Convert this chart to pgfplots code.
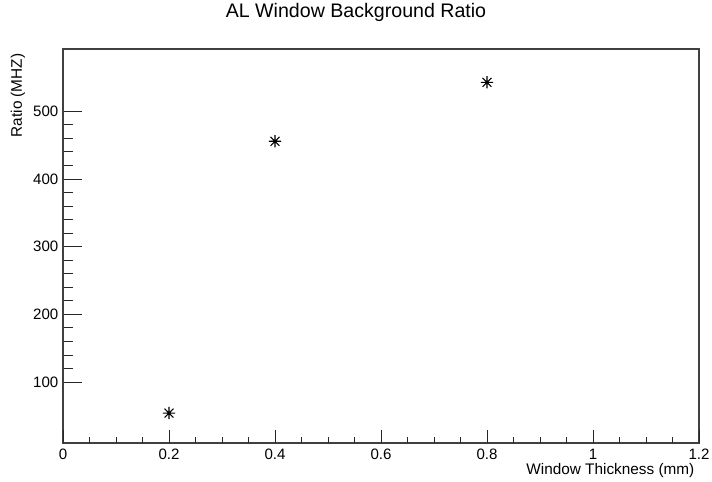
\documentclass[border=0pt]{standalone}
\usepackage{pgfplots}
\pgfplotsset{compat=1.18}
\usepackage{fontspec}
\setmainfont{Liberation Sans}
\pgfdeclareplotmark{rootstar}{%
  \pgfpathmoveto{\pgfqpoint{-\pgfplotmarksize}{0pt}}\pgfpathlineto{\pgfqpoint{\pgfplotmarksize}{0pt}}%
  \pgfpathmoveto{\pgfqpoint{0pt}{-\pgfplotmarksize}}\pgfpathlineto{\pgfqpoint{0pt}{\pgfplotmarksize}}%
  \pgfpathmoveto{\pgfqpoint{-0.72\pgfplotmarksize}{-0.72\pgfplotmarksize}}\pgfpathlineto{\pgfqpoint{0.72\pgfplotmarksize}{0.72\pgfplotmarksize}}%
  \pgfpathmoveto{\pgfqpoint{-0.72\pgfplotmarksize}{0.72\pgfplotmarksize}}\pgfpathlineto{\pgfqpoint{0.72\pgfplotmarksize}{-0.72\pgfplotmarksize}}%
  \pgfusepathqstroke}
\begin{document}
\begin{tikzpicture}[x=1pt,y=1pt]
\path[use as bounding box] (-47.25pt,-28.5pt) rectangle (486.75pt,332.25pt);
\begin{axis}[
  at={(0,0)}, anchor=south west,
  scale only axis, width=477pt, height=295.5pt,
  xmin=0, xmax=1.2, ymin=10, ymax=592,
  xtick={0,0.2,0.4,0.6,0.8,1,1.2},
  xticklabels={0,0.2,0.4,0.6,0.8,1,1.2},
  ytick={100,200,300,400,500},
  minor y tick num=4,
  tick pos=left,
  tick align=inside,
  major tick length=14pt, minor tick length=7.5pt,
  xtick style={draw=none},
  every tick/.style={black!85, line width=0.7pt},
  axis line style={line width=0.9pt, black!75},
  /pgf/number format/assume math mode=true,
  tick label style={font=\fontsize{11.3}{13}\selectfont},
  xticklabel style={yshift=-1pt},
  xlabel={Window Thickness (mm)},
  ylabel={Ratio (MHZ)},
  label style={font=\fontsize{11.5}{13}\selectfont},
  xlabel style={at={(axis description cs:1,-0.0812)}, anchor=base east},
  ylabel style={at={(axis description cs:-0.0708,1)}, anchor=east},
  title={AL Window Background Ratio},
  title style={at={(axis description cs:0.4607,1.0584)}, anchor=base, font=\fontsize{14.7}{17}\selectfont},
]
\addplot[only marks, mark=rootstar, mark size=4.6pt, mark options={line width=0.8pt}, black] coordinates {
  (0.2,54.2) (0.4,455.7) (0.8,542.8)
};
\end{axis}
\begin{axis}[
  at={(0,0)}, anchor=south west,
  scale only axis, width=477pt, height=295.5pt,
  xmin=0, xmax=1.2, ymin=10, ymax=592,
  xtick={0,0.2,0.4,0.6,0.8,1,1.2},
  minor x tick num=3,
  xticklabels={},
  ytick=\empty,
  tick pos=left, tick align=inside,
  major tick length=9.5pt, minor tick length=4.3pt,
  every tick/.style={black!85, line width=0.7pt},
  axis line style={draw=none},
]
\end{axis}
\end{tikzpicture}
\end{document}
